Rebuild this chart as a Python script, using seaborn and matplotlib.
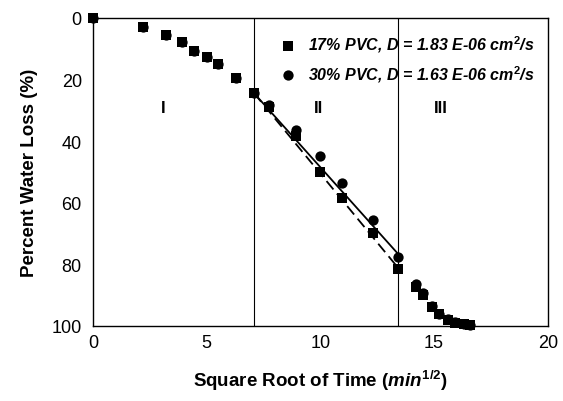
import numpy as np
import pandas as pd
import matplotlib
matplotlib.use("Agg")
import matplotlib.pyplot as plt
import seaborn as sns

# Data
sqrt_time_17 = [0, 2.2, 3.2, 3.9, 4.45, 5.0, 5.5, 6.3, 7.09, 7.75, 8.94, 10.0, 10.97, 12.3, 13.4,
                14.2, 14.5, 14.9, 15.2, 15.6, 15.9, 16.3, 16.6]
loss_17 = [0, 2.9, 5.5, 7.9, 10.6, 12.8, 15.0, 19.5, 24.5, 28.8, 38.5, 50.0, 58.5, 70.0, 81.5,
           87.5, 90.0, 94.0, 96.0, 98.0, 99.0, 99.5, 99.7]
sqrt_time_30 = [0, 2.2, 3.2, 3.9, 4.45, 5.0, 5.5, 6.3, 7.09, 7.75, 8.94, 10.0, 10.97, 12.3, 13.4,
                14.2, 14.5, 14.9, 15.2, 15.6, 15.9, 16.3, 16.6]
loss_30 = [0, 2.9, 5.5, 7.9, 10.6, 12.8, 15.0, 19.5, 24.5, 28.3, 36.5, 45.0, 53.5, 65.5, 77.5,
           86.5, 89.5, 93.5, 96.0, 97.8, 98.8, 99.4, 99.6]

fit_x = [7.09, 13.4]
fit_17 = [24.5, 81.0]
fit_30 = [24.5, 76.5]

region_bounds = [7.09, 13.4]
region_labels = ["I", "II", "III"]
region_label_x = [3.1, 9.9, 15.3]

sns.set_style("white")
plt.rcParams['font.family'] = ['Liberation Sans', 'DejaVu Sans']
plt.rcParams['mathtext.fontset'] = 'custom'
plt.rcParams['mathtext.rm'] = 'Liberation Sans:bold'
plt.rcParams['mathtext.it'] = 'Liberation Sans:italic:bold'
plt.rcParams['mathtext.bf'] = 'Liberation Sans:bold'
for key in ['text.color', 'axes.labelcolor', 'xtick.color', 'ytick.color']:
    plt.rcParams[key] = 'black'

fig, ax = plt.subplots(figsize=(5.63, 4.02), dpi=100)
fig.subplots_adjust(left=0.165, right=0.973, top=0.953, bottom=0.187)

df17 = pd.DataFrame({"x": sqrt_time_17, "y": loss_17})
df30 = pd.DataFrame({"x": sqrt_time_30, "y": loss_30})

sns.scatterplot(data=df17, x="x", y="y", marker="s", s=42, color="black",
                edgecolor="black", linewidth=0, ax=ax,
                label="17% PVC, D = 1.83 E-06 cm$^{2}$/s", zorder=3, clip_on=False)
sns.scatterplot(data=df30, x="x", y="y", marker="o", s=55, color="black",
                edgecolor="black", linewidth=0, ax=ax,
                label="30% PVC, D = 1.63 E-06 cm$^{2}$/s", zorder=3, clip_on=False)

sns.lineplot(x=fit_x, y=fit_30, color="black", linewidth=1.3, ax=ax, legend=False)
sns.lineplot(x=fit_x, y=fit_17, color="black", linewidth=1.3, linestyle=(0, (6, 3)), ax=ax, legend=False)

for xb in region_bounds:
    ax.axvline(xb, color="black", linewidth=0.8)
for lab, lx in zip(region_labels, region_label_x):
    ax.text(lx, 29, lab, ha="center", va="center", fontsize=12, fontweight="bold")

ax.set_xlim(0, 20)
ax.set_ylim(100, 0)
ax.set_xticks([0, 5, 10, 15, 20])
ax.set_yticks([0, 20, 40, 60, 80, 100])
ax.tick_params(direction="in", length=4, labelsize=13, width=0.8)
ax.tick_params(axis="y", pad=8)
ax.tick_params(axis="x", pad=6)
for sp in ax.spines.values():
    sp.set_color("black")
    sp.set_linewidth(1.0)

ax.set_xlabel("Square Root of Time ($\\mathit{min^{1/2}}$)", fontsize=13.5,
              fontweight="bold", labelpad=12)
ax.set_ylabel("Percent Water Loss (%)", fontsize=13.5, fontweight="bold", labelpad=10)

leg = ax.legend(loc="upper right", frameon=False, handletextpad=0.8,
                prop={"size": 11.5, "weight": "bold", "style": "italic"},
                borderaxespad=0.4, handlelength=1.0, labelspacing=0.55,
                bbox_to_anchor=(1.0, 0.99))

fig.savefig("out.png", dpi=100)
